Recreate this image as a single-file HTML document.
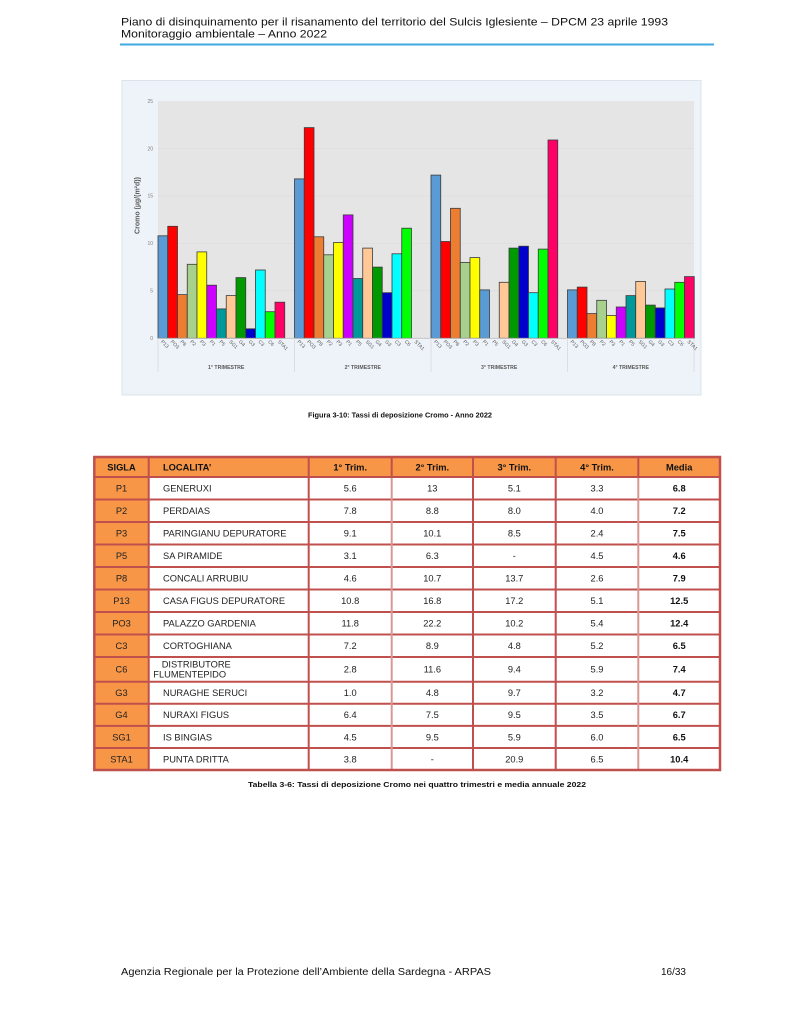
<!DOCTYPE html>
<html><head><meta charset="utf-8"><style>
html,body{margin:0;padding:0;background:#fff;}
svg{display:block;font-family:"Liberation Sans",Arial,sans-serif;}
</style></head><body>
<svg width="800" height="1035" viewBox="0 0 800 1035" xmlns="http://www.w3.org/2000/svg">
<rect width="800" height="1035" fill="#fff"/>
<!-- Header -->
<text x="121" y="25.5" font-size="10.7" fill="#111" textLength="547" lengthAdjust="spacingAndGlyphs">Piano di disinquinamento per il risanamento del territorio del Sulcis Iglesiente – DPCM 23 aprile 1993</text>
<text x="121" y="37.5" font-size="10.7" fill="#111" textLength="206" lengthAdjust="spacingAndGlyphs">Monitoraggio ambientale – Anno 2022</text>
<line x1="120" y1="44.5" x2="714" y2="44.5" stroke="#3fa9e0" stroke-width="2"/>

<!-- Chart box -->
<rect x="122" y="80.5" width="579" height="314.5" fill="#eef3f9" stroke="#dde3ea" stroke-width="1"/>
<rect x="158" y="101" width="536" height="237.3" fill="#e5e5e5"/>
<g stroke="#dcdcdc" stroke-width="0.6">
<line x1="158" y1="290.85" x2="694" y2="290.85"/>
<line x1="158" y1="243.4" x2="694" y2="243.4"/>
<line x1="158" y1="195.95" x2="694" y2="195.95"/>
<line x1="158" y1="148.5" x2="694" y2="148.5"/>
</g>
<g font-size="5" fill="#808080" text-anchor="end">
<text x="153" y="340">0</text>
<text x="153" y="292.6">5</text>
<text x="153" y="245.2">10</text>
<text x="153" y="197.7">15</text>
<text x="153" y="150.3">20</text>
<text x="153" y="102.8">25</text>
</g>
<text transform="translate(139.5,205.5) rotate(-90)" font-size="7" font-weight="bold" fill="#595959" text-anchor="middle">Cromo (µg/(m²d))</text>

<!-- Bars -->
<g stroke="#3a3a3a" stroke-width="0.8">
<!-- Q1 -->
<rect x="158" y="235.8" width="9.75" height="102.5" fill="#5b9bd5"/>
<rect x="167.75" y="226.3" width="9.75" height="112" fill="#ff0000"/>
<rect x="177.5" y="294.6" width="9.75" height="43.7" fill="#ed7d31"/>
<rect x="187.25" y="264.3" width="9.75" height="74" fill="#a9d18e"/>
<rect x="197" y="251.9" width="9.75" height="86.4" fill="#ffff00"/>
<rect x="206.75" y="285.2" width="9.75" height="53.1" fill="#cc00ff"/>
<rect x="216.5" y="308.9" width="9.75" height="29.4" fill="#009999"/>
<rect x="226.25" y="295.6" width="9.75" height="42.7" fill="#ffc896"/>
<rect x="236" y="277.6" width="9.75" height="60.7" fill="#009900"/>
<rect x="245.75" y="328.8" width="9.75" height="9.5" fill="#0000cc"/>
<rect x="255.5" y="270" width="9.75" height="68.3" fill="#00ffff"/>
<rect x="265.25" y="311.7" width="9.75" height="26.6" fill="#00ff00"/>
<rect x="275" y="302.2" width="9.75" height="36.1" fill="#ff0066"/>
<!-- Q2 -->
<rect x="294.5" y="178.9" width="9.75" height="159.4" fill="#5b9bd5"/>
<rect x="304.25" y="127.6" width="9.75" height="210.7" fill="#ff0000"/>
<rect x="314" y="236.8" width="9.75" height="101.5" fill="#ed7d31"/>
<rect x="323.75" y="254.8" width="9.75" height="83.5" fill="#a9d18e"/>
<rect x="333.5" y="242.5" width="9.75" height="95.8" fill="#ffff00"/>
<rect x="343.25" y="214.9" width="9.75" height="123.4" fill="#cc00ff"/>
<rect x="353" y="278.5" width="9.75" height="59.8" fill="#009999"/>
<rect x="362.75" y="248.1" width="9.75" height="90.2" fill="#ffc896"/>
<rect x="372.5" y="267.1" width="9.75" height="71.2" fill="#009900"/>
<rect x="382.25" y="292.7" width="9.75" height="45.6" fill="#0000cc"/>
<rect x="392" y="253.8" width="9.75" height="84.5" fill="#00ffff"/>
<rect x="401.75" y="228.2" width="9.75" height="110.1" fill="#00ff00"/>
<!-- Q3 -->
<rect x="431" y="175.1" width="9.75" height="163.2" fill="#5b9bd5"/>
<rect x="440.75" y="241.5" width="9.75" height="96.8" fill="#ff0000"/>
<rect x="450.5" y="208.3" width="9.75" height="130" fill="#ed7d31"/>
<rect x="460.25" y="262.4" width="9.75" height="75.9" fill="#a9d18e"/>
<rect x="470" y="257.6" width="9.75" height="80.7" fill="#ffff00"/>
<rect x="479.75" y="289.9" width="9.75" height="48.4" fill="#5b9bd5"/>
<rect x="499.25" y="282.3" width="9.75" height="56" fill="#ffc896"/>
<rect x="509" y="248.1" width="9.75" height="90.2" fill="#009900"/>
<rect x="518.75" y="246.2" width="9.75" height="92.1" fill="#0000cc"/>
<rect x="528.5" y="292.7" width="9.75" height="45.6" fill="#00ffff"/>
<rect x="538.25" y="249.1" width="9.75" height="89.2" fill="#00ff00"/>
<rect x="548" y="140" width="9.75" height="198.3" fill="#ff0066"/>
<!-- Q4 -->
<rect x="567.5" y="289.9" width="9.75" height="48.4" fill="#5b9bd5"/>
<rect x="577.25" y="287.1" width="9.75" height="51.2" fill="#ff0000"/>
<rect x="587" y="313.6" width="9.75" height="24.7" fill="#ed7d31"/>
<rect x="596.75" y="300.3" width="9.75" height="38" fill="#a9d18e"/>
<rect x="606.5" y="315.5" width="9.75" height="22.8" fill="#ffff00"/>
<rect x="616.25" y="307" width="9.75" height="31.3" fill="#cc00ff"/>
<rect x="626" y="295.6" width="9.75" height="42.7" fill="#009999"/>
<rect x="635.75" y="281.4" width="9.75" height="56.9" fill="#ffc896"/>
<rect x="645.5" y="305.1" width="9.75" height="33.2" fill="#009900"/>
<rect x="655.25" y="307.9" width="9.75" height="30.4" fill="#0000cc"/>
<rect x="665" y="289" width="9.75" height="49.3" fill="#00ffff"/>
<rect x="674.75" y="282.3" width="9.75" height="56" fill="#00ff00"/>
<rect x="684.5" y="276.6" width="9.75" height="61.7" fill="#ff0066"/>
</g>
<line x1="158" y1="338.3" x2="694" y2="338.3" stroke="#bfbfbf" stroke-width="0.8"/>
<g stroke="#d9d9d9" stroke-width="0.8">
<line x1="158" y1="338.3" x2="158" y2="372"/>
<line x1="294.5" y1="338.3" x2="294.5" y2="372"/>
<line x1="431" y1="338.3" x2="431" y2="372"/>
<line x1="567.5" y1="338.3" x2="567.5" y2="372"/>
<line x1="694" y1="338.3" x2="694" y2="372"/>
</g>

<!-- Tick labels -->
<g font-size="5" fill="#595959">
<text transform="translate(160.5,342) rotate(45)">P13</text>
<text transform="translate(170.25,342) rotate(45)">PO3</text>
<text transform="translate(180,342) rotate(45)">P8</text>
<text transform="translate(189.75,342) rotate(45)">P2</text>
<text transform="translate(199.5,342) rotate(45)">P3</text>
<text transform="translate(209.25,342) rotate(45)">P1</text>
<text transform="translate(219,342) rotate(45)">P5</text>
<text transform="translate(228.75,342) rotate(45)">SG1</text>
<text transform="translate(238.5,342) rotate(45)">G4</text>
<text transform="translate(248.25,342) rotate(45)">G3</text>
<text transform="translate(258,342) rotate(45)">C3</text>
<text transform="translate(267.75,342) rotate(45)">C6</text>
<text transform="translate(277.5,342) rotate(45)">STA1</text>

<text transform="translate(297,342) rotate(45)">P13</text>
<text transform="translate(306.75,342) rotate(45)">PO3</text>
<text transform="translate(316.5,342) rotate(45)">P8</text>
<text transform="translate(326.25,342) rotate(45)">P2</text>
<text transform="translate(336,342) rotate(45)">P3</text>
<text transform="translate(345.75,342) rotate(45)">P1</text>
<text transform="translate(355.5,342) rotate(45)">P5</text>
<text transform="translate(365.25,342) rotate(45)">SG1</text>
<text transform="translate(375,342) rotate(45)">G4</text>
<text transform="translate(384.75,342) rotate(45)">G3</text>
<text transform="translate(394.5,342) rotate(45)">C3</text>
<text transform="translate(404.25,342) rotate(45)">C6</text>
<text transform="translate(414,342) rotate(45)">STA1</text>

<text transform="translate(433.5,342) rotate(45)">P13</text>
<text transform="translate(443.25,342) rotate(45)">PO3</text>
<text transform="translate(453,342) rotate(45)">P8</text>
<text transform="translate(462.75,342) rotate(45)">P2</text>
<text transform="translate(472.5,342) rotate(45)">P3</text>
<text transform="translate(482.25,342) rotate(45)">P1</text>
<text transform="translate(492,342) rotate(45)">P5</text>
<text transform="translate(501.75,342) rotate(45)">SG1</text>
<text transform="translate(511.5,342) rotate(45)">G4</text>
<text transform="translate(521.25,342) rotate(45)">G3</text>
<text transform="translate(531,342) rotate(45)">C3</text>
<text transform="translate(540.75,342) rotate(45)">C6</text>
<text transform="translate(550.5,342) rotate(45)">STA1</text>

<text transform="translate(570,342) rotate(45)">P13</text>
<text transform="translate(579.75,342) rotate(45)">PO3</text>
<text transform="translate(589.5,342) rotate(45)">P8</text>
<text transform="translate(599.25,342) rotate(45)">P2</text>
<text transform="translate(609,342) rotate(45)">P3</text>
<text transform="translate(618.75,342) rotate(45)">P1</text>
<text transform="translate(628.5,342) rotate(45)">P5</text>
<text transform="translate(638.25,342) rotate(45)">SG1</text>
<text transform="translate(648,342) rotate(45)">G4</text>
<text transform="translate(657.75,342) rotate(45)">G3</text>
<text transform="translate(667.5,342) rotate(45)">C3</text>
<text transform="translate(677.25,342) rotate(45)">C6</text>
<text transform="translate(687,342) rotate(45)">STA1</text>
</g>
<g font-size="5.2" font-weight="bold" fill="#595959" text-anchor="middle">
<text x="226.2" y="369">1° TRIMESTRE</text>
<text x="362.8" y="369">2° TRIMESTRE</text>
<text x="499.2" y="369">3° TRIMESTRE</text>
<text x="630.8" y="369">4° TRIMESTRE</text>
</g>

<!-- Figure caption -->
<text x="308" y="417.5" font-size="7.3" font-weight="bold" fill="#111" textLength="184" lengthAdjust="spacingAndGlyphs">Figura 3-10: Tassi di deposizione Cromo - Anno 2022</text>

<!-- Table -->
<rect x="94.3" y="457" width="625.7" height="313" fill="#fff"/>
<rect x="94.3" y="457" width="625.7" height="20" fill="#f79646"/>
<rect x="94.3" y="477" width="54.4" height="293" fill="#f79646"/>
<g stroke="#c0504d" stroke-width="2">
<line x1="94.3" y1="477" x2="720" y2="477"/>
<line x1="94.3" y1="499.5" x2="720" y2="499.5"/>
<line x1="94.3" y1="522" x2="720" y2="522"/>
<line x1="94.3" y1="544.5" x2="720" y2="544.5"/>
<line x1="94.3" y1="567" x2="720" y2="567"/>
<line x1="94.3" y1="589.5" x2="720" y2="589.5"/>
<line x1="94.3" y1="612" x2="720" y2="612"/>
<line x1="94.3" y1="634.5" x2="720" y2="634.5"/>
<line x1="94.3" y1="657" x2="720" y2="657"/>
<line x1="94.3" y1="681.7" x2="720" y2="681.7"/>
<line x1="94.3" y1="703.8" x2="720" y2="703.8"/>
<line x1="94.3" y1="725.9" x2="720" y2="725.9"/>
<line x1="94.3" y1="748" x2="720" y2="748"/>
<line x1="148.7" y1="457" x2="148.7" y2="770"/>
<line x1="308.7" y1="457" x2="308.7" y2="770"/>
<line x1="473" y1="457" x2="473" y2="770"/>
<line x1="555.7" y1="457" x2="555.7" y2="770"/>
</g>
<g stroke="#d99694" stroke-width="2">
<line x1="391.7" y1="478" x2="391.7" y2="769"/>
<line x1="638.3" y1="478" x2="638.3" y2="769"/>
</g>
<g stroke="#c0504d" stroke-width="2">
<line x1="391.7" y1="457" x2="391.7" y2="477"/>
<line x1="638.3" y1="457" x2="638.3" y2="477"/>
</g>
<rect x="94.3" y="457" width="625.7" height="313" fill="none" stroke="#c0504d" stroke-width="2.5"/>

<g font-size="9.3" font-weight="bold" fill="#111">
<text x="121.5" y="470.4" text-anchor="middle">SIGLA</text>
<text x="163" y="470.4">LOCALITA’</text>
<text x="350.2" y="470.4" text-anchor="middle">1° Trim.</text>
<text x="432.3" y="470.4" text-anchor="middle">2° Trim.</text>
<text x="514.3" y="470.4" text-anchor="middle">3° Trim.</text>
<text x="597" y="470.4" text-anchor="middle">4° Trim.</text>
<text x="679.2" y="470.4" text-anchor="middle">Media</text>
</g>

<g font-size="9.3" fill="#222">
<!-- sigla -->
<g text-anchor="middle">
<text x="121.5" y="491.6">P1</text>
<text x="121.5" y="514.1">P2</text>
<text x="121.5" y="536.6">P3</text>
<text x="121.5" y="559.1">P5</text>
<text x="121.5" y="581.6">P8</text>
<text x="121.5" y="604.1">P13</text>
<text x="121.5" y="626.6">PO3</text>
<text x="121.5" y="649.1">C3</text>
<text x="121.5" y="672.7">C6</text>
<text x="121.5" y="696.1">G3</text>
<text x="121.5" y="718.2">G4</text>
<text x="121.5" y="740.3">SG1</text>
<text x="121.5" y="762.4">STA1</text>
</g>
<!-- localita -->
<text x="163" y="491.6">GENERUXI</text>
<text x="163" y="514.1">PERDAIAS</text>
<text x="163" y="536.6">PARINGIANU DEPURATORE</text>
<text x="163" y="559.1">SA PIRAMIDE</text>
<text x="163" y="581.6">CONCALI ARRUBIU</text>
<text x="163" y="604.1">CASA FIGUS DEPURATORE</text>
<text x="163" y="626.6">PALAZZO GARDENIA</text>
<text x="163" y="649.1">CORTOGHIANA</text>
<text x="161.7" y="667.3">DISTRIBUTORE</text>
<text x="153.3" y="677.6">FLUMENTEPIDO</text>
<text x="163" y="696.1">NURAGHE SERUCI</text>
<text x="163" y="718.2">NURAXI FIGUS</text>
<text x="163" y="740.3">IS BINGIAS</text>
<text x="163" y="762.4">PUNTA DRITTA</text>
<!-- numbers -->
<g text-anchor="middle">
<text x="350.2" y="491.6">5.6</text><text x="432.3" y="491.6">13</text><text x="514.3" y="491.6">5.1</text><text x="597" y="491.6">3.3</text>
<text x="350.2" y="514.1">7.8</text><text x="432.3" y="514.1">8.8</text><text x="514.3" y="514.1">8.0</text><text x="597" y="514.1">4.0</text>
<text x="350.2" y="536.6">9.1</text><text x="432.3" y="536.6">10.1</text><text x="514.3" y="536.6">8.5</text><text x="597" y="536.6">2.4</text>
<text x="350.2" y="559.1">3.1</text><text x="432.3" y="559.1">6.3</text><text x="514.3" y="559.1">-</text><text x="597" y="559.1">4.5</text>
<text x="350.2" y="581.6">4.6</text><text x="432.3" y="581.6">10.7</text><text x="514.3" y="581.6">13.7</text><text x="597" y="581.6">2.6</text>
<text x="350.2" y="604.1">10.8</text><text x="432.3" y="604.1">16.8</text><text x="514.3" y="604.1">17.2</text><text x="597" y="604.1">5.1</text>
<text x="350.2" y="626.6">11.8</text><text x="432.3" y="626.6">22.2</text><text x="514.3" y="626.6">10.2</text><text x="597" y="626.6">5.4</text>
<text x="350.2" y="649.1">7.2</text><text x="432.3" y="649.1">8.9</text><text x="514.3" y="649.1">4.8</text><text x="597" y="649.1">5.2</text>
<text x="350.2" y="672.7">2.8</text><text x="432.3" y="672.7">11.6</text><text x="514.3" y="672.7">9.4</text><text x="597" y="672.7">5.9</text>
<text x="350.2" y="696.1">1.0</text><text x="432.3" y="696.1">4.8</text><text x="514.3" y="696.1">9.7</text><text x="597" y="696.1">3.2</text>
<text x="350.2" y="718.2">6.4</text><text x="432.3" y="718.2">7.5</text><text x="514.3" y="718.2">9.5</text><text x="597" y="718.2">3.5</text>
<text x="350.2" y="740.3">4.5</text><text x="432.3" y="740.3">9.5</text><text x="514.3" y="740.3">5.9</text><text x="597" y="740.3">6.0</text>
<text x="350.2" y="762.4">3.8</text><text x="432.3" y="762.4">-</text><text x="514.3" y="762.4">20.9</text><text x="597" y="762.4">6.5</text>
</g>
<g text-anchor="middle" font-weight="bold" fill="#111">
<text x="679.2" y="491.6">6.8</text>
<text x="679.2" y="514.1">7.2</text>
<text x="679.2" y="536.6">7.5</text>
<text x="679.2" y="559.1">4.6</text>
<text x="679.2" y="581.6">7.9</text>
<text x="679.2" y="604.1">12.5</text>
<text x="679.2" y="626.6">12.4</text>
<text x="679.2" y="649.1">6.5</text>
<text x="679.2" y="672.7">7.4</text>
<text x="679.2" y="696.1">4.7</text>
<text x="679.2" y="718.2">6.7</text>
<text x="679.2" y="740.3">6.5</text>
<text x="679.2" y="762.4">10.4</text>
</g>
</g>

<!-- Table caption -->
<text x="248" y="787" font-size="7.3" font-weight="bold" fill="#111" textLength="338" lengthAdjust="spacingAndGlyphs">Tabella 3-6: Tassi di deposizione Cromo nei quattro trimestri e media annuale 2022</text>

<!-- Footer -->
<text x="121" y="975" font-size="9.8" fill="#111" textLength="370" lengthAdjust="spacingAndGlyphs">Agenzia Regionale per la Protezione dell’Ambiente della Sardegna - ARPAS</text>
<text x="661" y="975" font-size="9.8" fill="#111" textLength="25" lengthAdjust="spacingAndGlyphs">16/33</text>
</svg>
</body></html>
